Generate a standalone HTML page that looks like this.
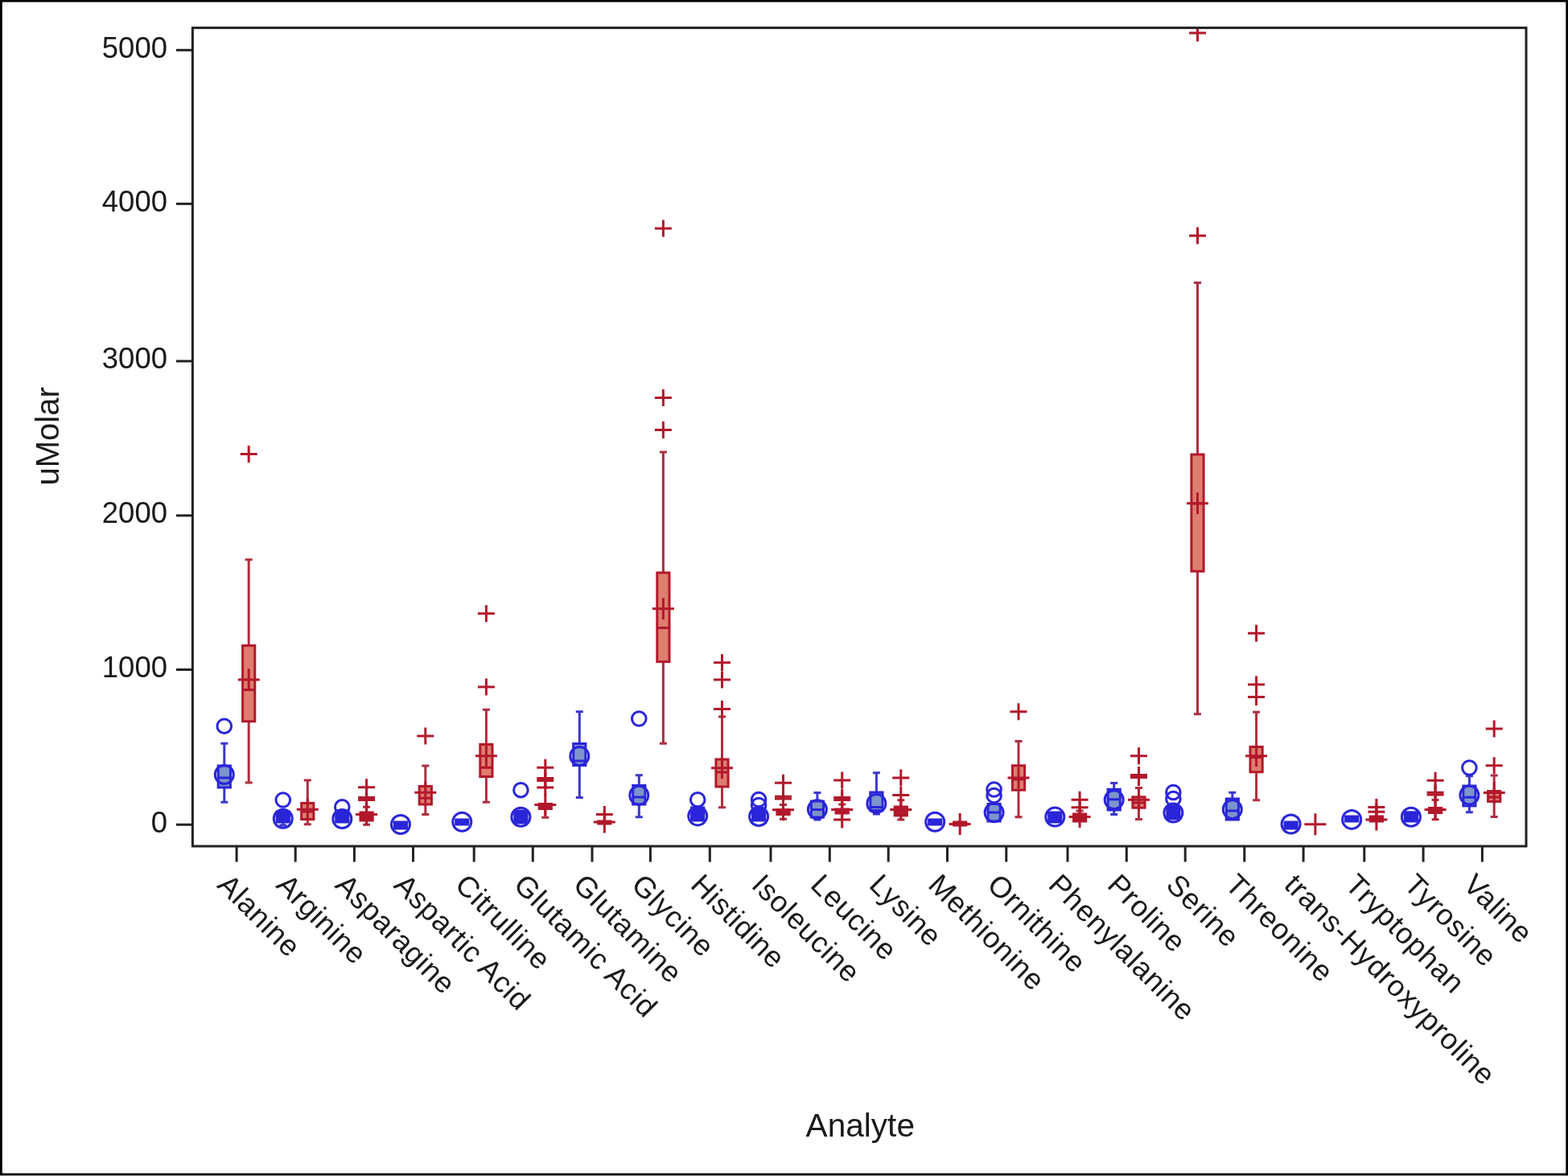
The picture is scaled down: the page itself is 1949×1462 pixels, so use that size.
<!DOCTYPE html>
<html><head><meta charset="utf-8"><title>Analyte box plot</title>
<style>
html,body{margin:0;padding:0;background:#fff;}
body{width:1949px;height:1462px;overflow:hidden;}
svg{display:block;}
#w{width:1949px;height:1462px;}
</style></head>
<body>
<div id="w"><svg width="1949" height="1462" viewBox="0 0 1949 1462">
<rect x="0" y="0" width="1949" height="1462" fill="#fff"/>
<rect x="1.4" y="1.2" width="1946.3" height="1458.8" fill="none" stroke="#000" stroke-width="2.8"/>
<g font-family="Liberation Sans, Arial, sans-serif" font-size="36.5" fill="#1a1a1a" text-anchor="end">
<text x="208" y="71.7">5000</text>
<text x="208" y="262.8">4000</text>
<text x="208" y="458.4">3000</text>
<text x="208" y="650.3">2000</text>
<text x="208" y="841.9">1000</text>
<text x="208" y="1034.6">0</text>
</g>
<g font-family="Liberation Sans, Arial, sans-serif" font-size="36.5" letter-spacing="0.8" fill="#1a1a1a">
<text transform="translate(268.6 1102) rotate(45)">Alanine</text>
<text transform="translate(341.7 1102) rotate(45)">Arginine</text>
<text transform="translate(414.9 1102) rotate(45)">Asparagine</text>
<text transform="translate(488 1102) rotate(45)">Aspartic Acid</text>
<text transform="translate(563.7 1102) rotate(45)">Citrulline</text>
<text transform="translate(636.8 1102) rotate(45)">Glutamic Acid</text>
<text transform="translate(710.5 1102) rotate(45)">Glutamine</text>
<text transform="translate(782.9 1102) rotate(45)">Glycine</text>
<text transform="translate(856.8 1102) rotate(45)">Histidine</text>
<text transform="translate(932.5 1102) rotate(45)">Isoleucine</text>
<text transform="translate(1005.8 1102) rotate(45)">Leucine</text>
<text transform="translate(1078.7 1102) rotate(45)">Lysine</text>
<text transform="translate(1152 1102) rotate(45)">Methionine</text>
<text transform="translate(1225.3 1102) rotate(45)">Ornithine</text>
<text transform="translate(1301.5 1102) rotate(45)">Phenylalanine</text>
<text transform="translate(1374.8 1102) rotate(45)">Proline</text>
<text transform="translate(1447.7 1102) rotate(45)">Serine</text>
<text transform="translate(1521.3 1102) rotate(45)">Threonine</text>
<text transform="translate(1594.6 1102) rotate(45)">trans-Hydroxyproline</text>
<text transform="translate(1670.3 1102) rotate(45)">Tryptophan</text>
<text transform="translate(1743.6 1102) rotate(45)">Tyrosine</text>
<text transform="translate(1816.9 1102) rotate(45)">Valine</text>
</g>
<text x="1069.3" y="1413.1" font-family="Liberation Sans, Arial, sans-serif" font-size="40.6" fill="#1a1a1a" text-anchor="middle">Analyte</text>
<text transform="translate(72.6 542.4) rotate(-90)" font-family="Liberation Sans, Arial, sans-serif" font-size="40" fill="#1a1a1a" text-anchor="middle">uMolar</text>
<defs><clipPath id="pc"><rect x="239.4" y="34.6" width="1657.6" height="1017.4"/></clipPath></defs>
<g stroke-width="3.0" fill="none" stroke-linecap="butt" clip-path="url(#pc)">
<path d="M278.8 924.2V952M274.3 924.2H283.3" stroke="#3C38CC"/>
<path d="M278.8 979V997.2M274.3 997.2H283.3" stroke="#3C38CC"/>
<rect x="271.2" y="952" width="15.2" height="27" fill="#7C95CA" stroke="#2A25D9"/>
<path d="M271.2 967H286.4" stroke="#2A25D9"/>
<circle cx="278.8" cy="963" r="11.5" fill="none" stroke="#2A25D9"/>
<circle cx="278.8" cy="902.7" r="8.8" fill="none" stroke="#2A25D9"/>
<path d="M351.8 1022V1026M347.3 1026H356.3" stroke="#3C38CC"/>
<rect x="344.2" y="1009" width="15.2" height="13" fill="#2A25D9" stroke="#2A25D9"/>
<path d="M344.2 1015.5H359.4" stroke="#2A25D9"/>
<circle cx="351.8" cy="1017.8" r="11.5" fill="none" stroke="#2A25D9"/>
<circle cx="351.8" cy="994.5" r="8.8" fill="none" stroke="#2A25D9"/>
<rect x="417.7" y="1008" width="15.2" height="14" fill="#2A25D9" stroke="#2A25D9"/>
<path d="M417.7 1016H432.9" stroke="#2A25D9"/>
<circle cx="425.3" cy="1018" r="11.5" fill="none" stroke="#2A25D9"/>
<circle cx="425.3" cy="1003.3" r="8.8" fill="none" stroke="#2A25D9"/>
<rect x="490.4" y="1022" width="15.2" height="8" fill="#2A25D9" stroke="#2A25D9"/>
<path d="M490.4 1027H505.6" stroke="#2A25D9"/>
<circle cx="498" cy="1025" r="11.5" fill="none" stroke="#2A25D9"/>
<rect x="566.7" y="1019" width="15.2" height="6" fill="#2A25D9" stroke="#2A25D9"/>
<path d="M566.7 1022H581.9" stroke="#2A25D9"/>
<circle cx="574.3" cy="1021.7" r="11.5" fill="none" stroke="#2A25D9"/>
<rect x="639.8" y="1008" width="15.2" height="15" fill="#2A25D9" stroke="#2A25D9"/>
<path d="M639.8 1018H655" stroke="#2A25D9"/>
<circle cx="647.4" cy="1015.7" r="11.5" fill="none" stroke="#2A25D9"/>
<circle cx="647.4" cy="982.2" r="8.8" fill="none" stroke="#2A25D9"/>
<path d="M720.3 884.7V924.5M715.8 884.7H724.8" stroke="#3C38CC"/>
<path d="M720.3 951.5V991.6M715.8 991.6H724.8" stroke="#3C38CC"/>
<rect x="712.7" y="924.5" width="15.2" height="27" fill="#7C95CA" stroke="#2A25D9"/>
<path d="M712.7 946H727.9" stroke="#2A25D9"/>
<circle cx="720.3" cy="939.9" r="11.5" fill="none" stroke="#2A25D9"/>
<path d="M794.3 963.8V976.5M789.8 963.8H798.8" stroke="#3C38CC"/>
<path d="M794.3 1000V1015.7M789.8 1015.7H798.8" stroke="#3C38CC"/>
<rect x="786.7" y="976.5" width="15.2" height="23.5" fill="#7C95CA" stroke="#2A25D9"/>
<path d="M786.7 991H801.9" stroke="#2A25D9"/>
<circle cx="794.3" cy="988.8" r="11.5" fill="none" stroke="#2A25D9"/>
<circle cx="794.3" cy="893.5" r="8.8" fill="none" stroke="#2A25D9"/>
<rect x="859.6" y="1004" width="15.2" height="16" fill="#2A25D9" stroke="#2A25D9"/>
<path d="M859.6 1013H874.8" stroke="#2A25D9"/>
<circle cx="867.2" cy="1014.4" r="11.5" fill="none" stroke="#2A25D9"/>
<circle cx="867.2" cy="994.2" r="8.8" fill="none" stroke="#2A25D9"/>
<rect x="935.5" y="1005" width="15.2" height="15" fill="#2A25D9" stroke="#2A25D9"/>
<path d="M935.5 1012H950.7" stroke="#2A25D9"/>
<circle cx="943.1" cy="1015" r="11.5" fill="none" stroke="#2A25D9"/>
<circle cx="943.1" cy="994" r="8.8" fill="none" stroke="#2A25D9"/>
<circle cx="943.1" cy="1001" r="8.8" fill="none" stroke="#2A25D9"/>
<path d="M1015.9 985.4V996M1011.4 985.4H1020.4" stroke="#3C38CC"/>
<path d="M1015.9 1016V1019M1011.4 1019H1020.4" stroke="#3C38CC"/>
<rect x="1008.3" y="996" width="15.2" height="20" fill="#7C95CA" stroke="#2A25D9"/>
<path d="M1008.3 1006.6H1023.5" stroke="#2A25D9"/>
<circle cx="1015.9" cy="1006.2" r="11.5" fill="none" stroke="#2A25D9"/>
<path d="M1089.4 960.8V985M1084.9 960.8H1093.9" stroke="#3C38CC"/>
<path d="M1089.4 1007.7V1012M1084.9 1012H1093.9" stroke="#3C38CC"/>
<rect x="1081.8" y="985" width="15.2" height="22.7" fill="#7C95CA" stroke="#2A25D9"/>
<path d="M1081.8 1003.5H1097" stroke="#2A25D9"/>
<circle cx="1089.4" cy="998.9" r="11.5" fill="none" stroke="#2A25D9"/>
<rect x="1154.6" y="1019" width="15.2" height="6" fill="#2A25D9" stroke="#2A25D9"/>
<path d="M1154.6 1022H1169.8" stroke="#2A25D9"/>
<circle cx="1162.2" cy="1021.7" r="11.5" fill="none" stroke="#2A25D9"/>
<rect x="1228" y="999.5" width="15.2" height="21.5" fill="#7C95CA" stroke="#2A25D9"/>
<path d="M1228 1010H1243.2" stroke="#2A25D9"/>
<circle cx="1235.6" cy="1010.3" r="11.5" fill="none" stroke="#2A25D9"/>
<circle cx="1235.6" cy="981.5" r="8.8" fill="none" stroke="#2A25D9"/>
<circle cx="1235.6" cy="989" r="8.8" fill="none" stroke="#2A25D9"/>
<rect x="1303.7" y="1010" width="15.2" height="12" fill="#2A25D9" stroke="#2A25D9"/>
<path d="M1303.7 1016H1318.9" stroke="#2A25D9"/>
<circle cx="1311.3" cy="1015.6" r="11.5" fill="none" stroke="#2A25D9"/>
<path d="M1384.7 973.4V981.3M1380.2 973.4H1389.2" stroke="#3C38CC"/>
<path d="M1384.7 1007V1012.6M1380.2 1012.6H1389.2" stroke="#3C38CC"/>
<rect x="1377.1" y="981.3" width="15.2" height="25.7" fill="#7C95CA" stroke="#2A25D9"/>
<path d="M1377.1 993.8H1392.3" stroke="#2A25D9"/>
<circle cx="1384.7" cy="994.2" r="11.5" fill="none" stroke="#2A25D9"/>
<rect x="1450.8" y="1003" width="15.2" height="15" fill="#2A25D9" stroke="#2A25D9"/>
<path d="M1450.8 1012H1466" stroke="#2A25D9"/>
<circle cx="1458.4" cy="1010.6" r="11.5" fill="none" stroke="#2A25D9"/>
<circle cx="1458.4" cy="985" r="8.8" fill="none" stroke="#2A25D9"/>
<circle cx="1458.4" cy="993" r="8.8" fill="none" stroke="#2A25D9"/>
<path d="M1531.8 985.3V993M1527.3 985.3H1536.3" stroke="#3C38CC"/>
<rect x="1524.2" y="993" width="15.2" height="26" fill="#7C95CA" stroke="#2A25D9"/>
<path d="M1524.2 1008H1539.4" stroke="#2A25D9"/>
<circle cx="1531.8" cy="1006.3" r="11.5" fill="none" stroke="#2A25D9"/>
<rect x="1597" y="1022" width="15.2" height="8" fill="#2A25D9" stroke="#2A25D9"/>
<path d="M1597 1026H1612.2" stroke="#2A25D9"/>
<circle cx="1604.6" cy="1024.5" r="11.5" fill="none" stroke="#2A25D9"/>
<rect x="1672.6" y="1015" width="15.2" height="6" fill="#2A25D9" stroke="#2A25D9"/>
<path d="M1672.6 1017H1687.8" stroke="#2A25D9"/>
<circle cx="1680.2" cy="1018.9" r="11.5" fill="none" stroke="#2A25D9"/>
<rect x="1746.3" y="1009.8" width="15.2" height="11.2" fill="#2A25D9" stroke="#2A25D9"/>
<path d="M1746.3 1016H1761.5" stroke="#2A25D9"/>
<circle cx="1753.9" cy="1015.7" r="11.5" fill="none" stroke="#2A25D9"/>
<path d="M1826.4 964.7V977M1821.9 964.7H1830.9" stroke="#3C38CC"/>
<path d="M1826.4 1001.9V1009.8M1821.9 1009.8H1830.9" stroke="#3C38CC"/>
<rect x="1818.8" y="977" width="15.2" height="24.9" fill="#7C95CA" stroke="#2A25D9"/>
<path d="M1818.8 991.2H1834" stroke="#2A25D9"/>
<circle cx="1826.4" cy="988.4" r="11.5" fill="none" stroke="#2A25D9"/>
<circle cx="1826.4" cy="954.5" r="8.8" fill="none" stroke="#2A25D9"/>
<path d="M309.2 695.8V802.6M304.7 695.8H313.7" stroke="#AE2E40"/>
<path d="M309.2 896.8V973M304.7 973H313.7" stroke="#AE2E40"/>
<rect x="301.6" y="802.6" width="15.2" height="94.2" fill="#DE7E6F" stroke="#B2182B"/>
<path d="M301.6 857.6H316.8" stroke="#B2182B"/>
<path d="M295.7 845.1H322.7M309.2 831.6V858.6" stroke="#B2182B"/>
<path d="M298.7 564.6H319.7M309.2 554.1V575.1" stroke="#B2182B"/>
<path d="M382.3 970.1V998.4M377.8 970.1H386.8" stroke="#AE2E40"/>
<path d="M382.3 1018.6V1024.8M377.8 1024.8H386.8" stroke="#AE2E40"/>
<rect x="374.7" y="998.4" width="15.2" height="20.2" fill="#DE7E6F" stroke="#B2182B"/>
<path d="M374.7 1009H389.9" stroke="#B2182B"/>
<path d="M368.8 1006.2H395.8M382.3 992.7V1019.7" stroke="#B2182B"/>
<path d="M455.6 1003.3V1010M451.1 1003.3H460.1" stroke="#AE2E40"/>
<path d="M455.6 1020V1025.3M451.1 1025.3H460.1" stroke="#AE2E40"/>
<rect x="448" y="1010" width="15.2" height="10" fill="#B2182B" stroke="#B2182B"/>
<path d="M448 1013H463.2" stroke="#B2182B"/>
<path d="M442.1 1012.6H469.1M455.6 999.1V1026.1" stroke="#B2182B"/>
<path d="M445.1 978.8H466.1M455.6 968.3V989.3" stroke="#B2182B"/>
<path d="M445.1 991.6H466.1M455.6 981.1V1002.1" stroke="#B2182B"/>
<path d="M445.1 994.4H466.1M455.6 983.9V1004.9" stroke="#B2182B"/>
<path d="M528.8 952.1V977.4M524.3 952.1H533.3" stroke="#AE2E40"/>
<path d="M528.8 1000V1012.6M524.3 1012.6H533.3" stroke="#AE2E40"/>
<rect x="521.2" y="977.4" width="15.2" height="22.6" fill="#DE7E6F" stroke="#B2182B"/>
<path d="M521.2 992.2H536.4" stroke="#B2182B"/>
<path d="M515.3 985.2H542.3M528.8 971.7V998.7" stroke="#B2182B"/>
<path d="M518.3 914.9H539.3M528.8 904.4V925.4" stroke="#B2182B"/>
<path d="M604.4 882.2V925.4M599.9 882.2H608.9" stroke="#AE2E40"/>
<path d="M604.4 965.5V997.3M599.9 997.3H608.9" stroke="#AE2E40"/>
<rect x="596.8" y="925.4" width="15.2" height="40.1" fill="#DE7E6F" stroke="#B2182B"/>
<path d="M596.8 954.3H612" stroke="#B2182B"/>
<path d="M590.9 939.7H617.9M604.4 926.2V953.2" stroke="#B2182B"/>
<path d="M593.9 762.7H614.9M604.4 752.2V773.2" stroke="#B2182B"/>
<path d="M593.9 854H614.9M604.4 843.5V864.5" stroke="#B2182B"/>
<path d="M677.8 1005.5V1016.3M673.3 1016.3H682.3" stroke="#AE2E40"/>
<rect x="670.2" y="999.5" width="15.2" height="6" fill="#B2182B" stroke="#B2182B"/>
<path d="M670.2 1003H685.4" stroke="#B2182B"/>
<path d="M664.3 1000.5H691.3M677.8 987V1014" stroke="#B2182B"/>
<path d="M667.3 954.3H688.3M677.8 943.8V964.8" stroke="#B2182B"/>
<path d="M667.3 967.6H688.3M677.8 957.1V978.1" stroke="#B2182B"/>
<path d="M667.3 970.4H688.3M677.8 959.9V980.9" stroke="#B2182B"/>
<path d="M667.3 979H688.3M677.8 968.5V989.5" stroke="#B2182B"/>
<rect x="743.7" y="1021" width="15.2" height="3" fill="#B2182B" stroke="#B2182B"/>
<path d="M743.7 1022.5H758.9" stroke="#B2182B"/>
<path d="M737.8 1022H764.8M751.3 1008.5V1035.5" stroke="#B2182B"/>
<path d="M740.8 1012.5H761.8M751.3 1002V1023" stroke="#B2182B"/>
<path d="M824.4 561.9V712M819.9 561.9H828.9" stroke="#AE2E40"/>
<path d="M824.4 822.7V924.3M819.9 924.3H828.9" stroke="#AE2E40"/>
<rect x="816.8" y="712" width="15.2" height="110.7" fill="#DE7E6F" stroke="#B2182B"/>
<path d="M816.8 780.6H832" stroke="#B2182B"/>
<path d="M810.9 756.7H837.9M824.4 743.2V770.2" stroke="#B2182B"/>
<path d="M813.9 284H834.9M824.4 273.5V294.5" stroke="#B2182B"/>
<path d="M813.9 494.4H834.9M824.4 483.9V504.9" stroke="#B2182B"/>
<path d="M813.9 534.4H834.9M824.4 523.9V544.9" stroke="#B2182B"/>
<path d="M897.5 891V944M893 891H902" stroke="#AE2E40"/>
<path d="M897.5 978V1003.7M893 1003.7H902" stroke="#AE2E40"/>
<rect x="889.9" y="944" width="15.2" height="34" fill="#DE7E6F" stroke="#B2182B"/>
<path d="M889.9 960H905.1" stroke="#B2182B"/>
<path d="M884 954.7H911M897.5 941.2V968.2" stroke="#B2182B"/>
<path d="M887 823.8H908M897.5 813.3V834.3" stroke="#B2182B"/>
<path d="M887 845H908M897.5 834.5V855.5" stroke="#B2182B"/>
<path d="M887 881.6H908M897.5 871.1V892.1" stroke="#B2182B"/>
<path d="M973.5 1000.5V1006.8M969 1000.5H978" stroke="#AE2E40"/>
<path d="M973.5 1012.5V1018.2M969 1018.2H978" stroke="#AE2E40"/>
<rect x="965.9" y="1006.8" width="15.2" height="5.7" fill="#B2182B" stroke="#B2182B"/>
<path d="M965.9 1009H981.1" stroke="#B2182B"/>
<path d="M960 1006.8H987M973.5 993.3V1020.3" stroke="#B2182B"/>
<path d="M963 973.3H984M973.5 962.8V983.8" stroke="#B2182B"/>
<path d="M963 990.3H984M973.5 979.8V1000.8" stroke="#B2182B"/>
<path d="M963 993.1H984M973.5 982.6V1003.6" stroke="#B2182B"/>
<path d="M1046.7 1000V1006M1042.2 1000H1051.2" stroke="#AE2E40"/>
<rect x="1039.1" y="1006" width="15.2" height="5" fill="#B2182B" stroke="#B2182B"/>
<path d="M1039.1 1008.5H1054.3" stroke="#B2182B"/>
<path d="M1033.2 1006.6H1060.2M1046.7 993.1V1020.1" stroke="#B2182B"/>
<path d="M1036.2 970H1057.2M1046.7 959.5V980.5" stroke="#B2182B"/>
<path d="M1036.2 991.6H1057.2M1046.7 981.1V1002.1" stroke="#B2182B"/>
<path d="M1036.2 994.4H1057.2M1046.7 983.9V1004.9" stroke="#B2182B"/>
<path d="M1036.2 1018.9H1057.2M1046.7 1008.4V1029.4" stroke="#B2182B"/>
<path d="M1119.8 994.7V1003M1115.3 994.7H1124.3" stroke="#AE2E40"/>
<path d="M1119.8 1013.9V1018.9M1115.3 1018.9H1124.3" stroke="#AE2E40"/>
<rect x="1112.2" y="1003" width="15.2" height="10.9" fill="#B2182B" stroke="#B2182B"/>
<path d="M1112.2 1008H1127.4" stroke="#B2182B"/>
<path d="M1106.3 1006.6H1133.3M1119.8 993.1V1020.1" stroke="#B2182B"/>
<path d="M1109.3 967H1130.3M1119.8 956.5V977.5" stroke="#B2182B"/>
<path d="M1109.3 988.5H1130.3M1119.8 978V999" stroke="#B2182B"/>
<rect x="1185.6" y="1022" width="15.2" height="4" fill="#B2182B" stroke="#B2182B"/>
<path d="M1185.6 1024H1200.8" stroke="#B2182B"/>
<path d="M1179.7 1024.6H1206.7M1193.2 1011.1V1038.1" stroke="#B2182B"/>
<path d="M1266 921.4V951.8M1261.5 921.4H1270.5" stroke="#AE2E40"/>
<path d="M1266 982.2V1015.7M1261.5 1015.7H1270.5" stroke="#AE2E40"/>
<rect x="1258.4" y="951.8" width="15.2" height="30.4" fill="#DE7E6F" stroke="#B2182B"/>
<path d="M1258.4 968.9H1273.6" stroke="#B2182B"/>
<path d="M1252.5 967H1279.5M1266 953.5V980.5" stroke="#B2182B"/>
<path d="M1255.5 884.7H1276.5M1266 874.2V895.2" stroke="#B2182B"/>
<path d="M1342.1 1008V1012M1337.6 1008H1346.6" stroke="#AE2E40"/>
<rect x="1334.5" y="1012" width="15.2" height="9" fill="#B2182B" stroke="#B2182B"/>
<path d="M1334.5 1017H1349.7" stroke="#B2182B"/>
<path d="M1328.6 1015.6H1355.6M1342.1 1002.1V1029.1" stroke="#B2182B"/>
<path d="M1331.6 994.2H1352.6M1342.1 983.7V1004.7" stroke="#B2182B"/>
<path d="M1331.6 1003.7H1352.6M1342.1 993.2V1014.2" stroke="#B2182B"/>
<path d="M1415.5 979.4V990.8M1411 979.4H1420" stroke="#AE2E40"/>
<path d="M1415.5 1004.2V1018.5M1411 1018.5H1420" stroke="#AE2E40"/>
<rect x="1407.9" y="990.8" width="15.2" height="13.4" fill="#DE7E6F" stroke="#B2182B"/>
<path d="M1407.9 998H1423.1" stroke="#B2182B"/>
<path d="M1402 994.2H1429M1415.5 980.7V1007.7" stroke="#B2182B"/>
<path d="M1405 939.7H1426M1415.5 929.2V950.2" stroke="#B2182B"/>
<path d="M1405 963.6H1426M1415.5 953.1V974.1" stroke="#B2182B"/>
<path d="M1405 966.4H1426M1415.5 955.9V976.9" stroke="#B2182B"/>
<path d="M1488.5 351.6V565M1484 351.6H1493" stroke="#AE2E40"/>
<path d="M1488.5 710.2V887.8M1484 887.8H1493" stroke="#AE2E40"/>
<rect x="1480.9" y="565" width="15.2" height="145.2" fill="#DE7E6F" stroke="#B2182B"/>
<path d="M1480.9 626H1496.1" stroke="#B2182B"/>
<path d="M1475 625.8H1502M1488.5 612.3V639.3" stroke="#B2182B"/>
<path d="M1478 41.1H1499M1488.5 30.6V51.6" stroke="#B2182B"/>
<path d="M1478 292.9H1499M1488.5 282.4V303.4" stroke="#B2182B"/>
<path d="M1561.6 885.2V928.5M1557.1 885.2H1566.1" stroke="#AE2E40"/>
<path d="M1561.6 959.8V994.8M1557.1 994.8H1566.1" stroke="#AE2E40"/>
<rect x="1554" y="928.5" width="15.2" height="31.3" fill="#DE7E6F" stroke="#B2182B"/>
<path d="M1554 941.6H1569.2" stroke="#B2182B"/>
<path d="M1548.1 939.7H1575.1M1561.6 926.2V953.2" stroke="#B2182B"/>
<path d="M1551.1 787.3H1572.1M1561.6 776.8V797.8" stroke="#B2182B"/>
<path d="M1551.1 851.1H1572.1M1561.6 840.6V861.6" stroke="#B2182B"/>
<path d="M1551.1 866.5H1572.1M1561.6 856V877" stroke="#B2182B"/>
<path d="M1621.4 1024.7H1648.4M1634.9 1011.2V1038.2" stroke="#B2182B"/>
<rect x="1703.3" y="1015" width="15.2" height="6" fill="#B2182B" stroke="#B2182B"/>
<path d="M1703.3 1018H1718.5" stroke="#B2182B"/>
<path d="M1697.4 1018.9H1724.4M1710.9 1005.4V1032.4" stroke="#B2182B"/>
<path d="M1700.4 1003.5H1721.4M1710.9 993V1014" stroke="#B2182B"/>
<path d="M1700.4 1009.3H1721.4M1710.9 998.8V1019.8" stroke="#B2182B"/>
<path d="M1784.1 994.6V1004.5M1779.6 994.6H1788.6" stroke="#AE2E40"/>
<path d="M1784.1 1010.5V1018.8M1779.6 1018.8H1788.6" stroke="#AE2E40"/>
<rect x="1776.5" y="1004.5" width="15.2" height="6" fill="#B2182B" stroke="#B2182B"/>
<path d="M1776.5 1007H1791.7" stroke="#B2182B"/>
<path d="M1770.6 1006.4H1797.6M1784.1 992.9V1019.9" stroke="#B2182B"/>
<path d="M1773.6 970.3H1794.6M1784.1 959.8V980.8" stroke="#B2182B"/>
<path d="M1773.6 985.3H1794.6M1784.1 974.8V995.8" stroke="#B2182B"/>
<path d="M1773.6 988.1H1794.6M1784.1 977.6V998.6" stroke="#B2182B"/>
<path d="M1857.2 964.1V983.6M1852.7 964.1H1861.7" stroke="#AE2E40"/>
<path d="M1857.2 996.4V1015.4M1852.7 1015.4H1861.7" stroke="#AE2E40"/>
<rect x="1849.6" y="983.6" width="15.2" height="12.8" fill="#DE7E6F" stroke="#B2182B"/>
<path d="M1849.6 991H1864.8" stroke="#B2182B"/>
<path d="M1843.7 985.5H1870.7M1857.2 972V999" stroke="#B2182B"/>
<path d="M1846.7 906H1867.7M1857.2 895.5V916.5" stroke="#B2182B"/>
<path d="M1846.7 951.7H1867.7M1857.2 941.2V962.2" stroke="#B2182B"/>
</g>
<g stroke="#222" stroke-width="3.0" fill="none">
<rect x="239.4" y="34.6" width="1657.6" height="1017.4"/>
<path d="M219 62.3H239.4"/>
<path d="M219 253.4H239.4"/>
<path d="M219 449.0H239.4"/>
<path d="M219 640.9H239.4"/>
<path d="M219 832.5H239.4"/>
<path d="M219 1025.2H239.4"/>
<path d="M294.1 1052.0V1071.5"/>
<path d="M367.2 1052.0V1071.5"/>
<path d="M440.4 1052.0V1071.5"/>
<path d="M513.5 1052.0V1071.5"/>
<path d="M589.2 1052.0V1071.5"/>
<path d="M662.3 1052.0V1071.5"/>
<path d="M736.0 1052.0V1071.5"/>
<path d="M808.4 1052.0V1071.5"/>
<path d="M882.3 1052.0V1071.5"/>
<path d="M958.0 1052.0V1071.5"/>
<path d="M1031.3 1052.0V1071.5"/>
<path d="M1104.2 1052.0V1071.5"/>
<path d="M1177.5 1052.0V1071.5"/>
<path d="M1250.8 1052.0V1071.5"/>
<path d="M1327.0 1052.0V1071.5"/>
<path d="M1400.3 1052.0V1071.5"/>
<path d="M1473.2 1052.0V1071.5"/>
<path d="M1546.8 1052.0V1071.5"/>
<path d="M1620.1 1052.0V1071.5"/>
<path d="M1695.8 1052.0V1071.5"/>
<path d="M1769.1 1052.0V1071.5"/>
<path d="M1842.4 1052.0V1071.5"/>
</g>
</svg></div>
</body></html>
